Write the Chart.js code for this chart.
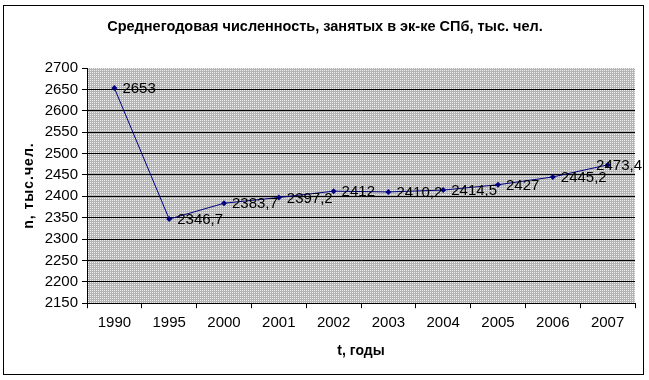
<!DOCTYPE html>
<html>
<head>
<meta charset="utf-8">
<script src="https://cdn.jsdelivr.net/npm/chart.js@4.4.1/dist/chart.umd.min.js"></script>
<style>
html,body{margin:0;padding:0;background:#fff;}
#wrap{width:649px;height:380px;position:relative;}
</style>
</head>
<body>
<div id="wrap"><canvas id="c" width="649" height="380"></canvas></div>
<script>
const categories = ['1990','1995','2000','2001','2002','2003','2004','2005','2006','2007'];
const values = [2653, 2346.7, 2383.7, 2397.2, 2412, 2410.2, 2414.5, 2427, 2445.2, 2473.4];
const yMin = 2150, yMax = 2700, yStep = 50;
const titleText = 'Среднегодовая численность, занятых в эк-ке СПб, тыс. чел.';
const xTitle = 't, годы';
const yTitle = 'n, тыс.чел.';

const FONT = '"Liberation Sans", Arial, sans-serif';

function makePattern(ctx){
  const p = document.createElement('canvas');
  p.width = 2; p.height = 2;
  const g = p.getContext('2d');
  g.fillStyle = '#b4b4b4'; g.fillRect(0,0,2,2);
  g.fillStyle = '#f0f0f0'; g.fillRect(0,0,1,1);
  return ctx.createPattern(p, 'repeat');
}

const bgPlugin = {
  id: 'bgPlugin',
  beforeDraw(chart){
    const ctx = chart.ctx;
    const a = chart.chartArea;
    ctx.save();
    ctx.fillStyle = '#fff';
    ctx.fillRect(0,0,chart.width,chart.height);
    ctx.strokeStyle = '#000';
    ctx.lineWidth = 1;
    ctx.strokeRect(3.5,5.5,640,369);
    ctx.fillStyle = makePattern(ctx);
    ctx.fillRect(a.left, a.top, a.right - a.left, a.bottom - a.top);
    ctx.restore();
  }
};

const labelPlugin = {
  id: 'labelPlugin',
  afterDatasetsDraw(chart){
    const ctx = chart.ctx;
    const meta = chart.getDatasetMeta(0);
    ctx.save();
    ctx.font = '15px ' + FONT;
    ctx.fillStyle = '#000';
    ctx.textBaseline = 'middle';
    ctx.textAlign = 'left';
    meta.data.forEach((pt, i) => {
      const txt = String(values[i]).replace('.', ',');
      const w = ctx.measureText(txt).width;
      let x = pt.x + 8;
      if (x + w > 642) x = 642 - w;
      ctx.fillText(txt, x, pt.y + 1);
    });
    ctx.restore();
  }
};

const textPlugin = {
  id: 'textPlugin',
  afterDraw(chart){
    const ctx = chart.ctx;
    const a = chart.chartArea;
    ctx.save();
    ctx.fillStyle = '#000';
    ctx.textAlign = 'center';
    ctx.textBaseline = 'middle';
    ctx.font = 'bold 14.5px ' + FONT;
    ctx.fillText(titleText, 325, 27);
    // y-axis title
    ctx.translate(29, (a.top + a.bottom) / 2);
    ctx.rotate(-Math.PI / 2);
    ctx.font = 'bold 14px ' + FONT;
    ctx.letterSpacing = '1px';
    ctx.fillText(yTitle, 0, 0);
    ctx.restore();
  }
};

new Chart(document.getElementById('c'), {
  type: 'line',
  data: {
    labels: categories,
    datasets: [{
      data: values,
      borderColor: '#000080',
      backgroundColor: '#000080',
      borderWidth: 1,
      pointStyle: 'rectRot',
      pointRadius: 3,
      pointBorderWidth: 0,
      tension: 0,
      fill: false
    }]
  },
  plugins: [bgPlugin, labelPlugin, textPlugin],
  options: {
    responsive: false,
    animation: false,
    events: [],
    layout: { padding: { left: 20, right: 14, top: 68, bottom: 20 } },
    plugins: {
      legend: { display: false },
      tooltip: { enabled: false },
      title: { display: false }
    },
    scales: {
      x: {
        type: 'category',
        offset: true,
        grid: {
          offset: true,
          drawOnChartArea: false,
          drawTicks: true,
          tickLength: 5,
          color: '#000',
          tickColor: '#000'
        },
        border: { display: true, color: '#000', width: 1 },
        ticks: {
          color: '#000',
          font: { family: FONT, size: 15 },
          padding: 6,
          maxRotation: 0,
          autoSkip: false
        },
        title: {
          display: true,
          text: xTitle,
          color: '#000',
          font: { family: FONT, size: 14, weight: 'bold' },
          padding: { top: 5, bottom: 0 }
        }
      },
      y: {
        min: yMin,
        max: yMax,
        grid: {
          color: (c) => (c.tick && c.tick.value === yMax) ? 'rgba(0,0,0,0)' : '#000',
          tickColor: '#000',
          tickLength: 5,
          lineWidth: 1
        },
        border: { display: true, color: '#000', width: 1 },
        ticks: {
          stepSize: yStep,
          autoSkip: false,
          color: '#000',
          font: { family: FONT, size: 15 },
          padding: 4,
          callback: (v) => String(v)
        },
        afterFit(scale){ scale.width = 67; }
      }
    }
  }
});
</script>
</body>
</html>
